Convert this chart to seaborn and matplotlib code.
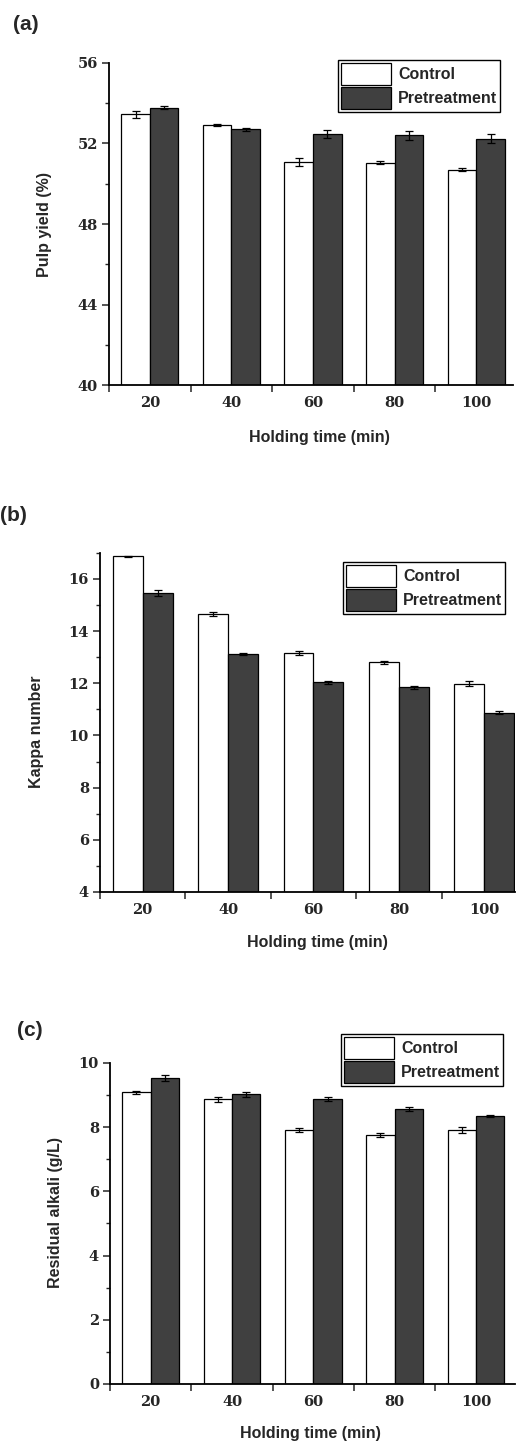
import numpy as np
import pandas as pd
import matplotlib
matplotlib.use("Agg")
import matplotlib.pyplot as plt
from matplotlib.ticker import MultipleLocator, FixedLocator
import seaborn as sns

# data
times = ["20", "40", "60", "80", "100"]
groups = ["Control", "Pretreatment"]

yield_control = [53.45, 52.92, 51.10, 51.05, 50.69]
yield_pre = [53.77, 52.71, 52.48, 52.41, 52.24]
yield_control_err = [0.16, 0.07, 0.20, 0.08, 0.08]
yield_pre_err = [0.08, 0.08, 0.20, 0.22, 0.22]

kappa_control = [16.87, 14.67, 13.15, 12.80, 11.99]
kappa_pre = [15.46, 13.13, 12.04, 11.85, 10.88]
kappa_control_err = [0.03, 0.08, 0.08, 0.06, 0.08]
kappa_pre_err = [0.10, 0.05, 0.05, 0.05, 0.05]

alkali_control = [9.08, 8.86, 7.91, 7.76, 7.91]
alkali_pre = [9.53, 9.02, 8.87, 8.57, 8.34]
alkali_control_err = [0.05, 0.07, 0.06, 0.06, 0.10]
alkali_pre_err = [0.10, 0.07, 0.06, 0.07, 0.04]

sns.set_style("ticks")
plt.rcParams["font.family"] = ["Liberation Sans", "DejaVu Sans"]

fig = plt.figure(figsize=(5.17, 14.41), dpi=100)

panels = [
    dict(tag="(a)", ylabel="Pulp yield (%)", c=yield_control, p=yield_pre,
         ce=yield_control_err, pe=yield_pre_err, ylim=(40, 56), major=4, minor=2,
         rect=[0.2108, 0.7328, 0.7814, 0.2235], xmax=4.45,
         ylab=(-0.140, 0.50), xlab=(0.522, -0.140), tagpos=(0.025, 0.9833),
         leg=(338, 60, 503, 118)),
    dict(tag="(b)", ylabel="Kappa number", c=kappa_control, p=kappa_pre,
         ce=kappa_control_err, pe=kappa_pre_err, ylim=(4, 17), major=2, minor=1,
         rect=[0.1934, 0.3810, 0.8027, 0.2353], xmax=4.36,
         ylab=(-0.135, 0.472), xlab=(0.523, -0.128), tagpos=(0.0, 0.6426),
         leg=(343, 562, 514, 622)),
    dict(tag="(c)", ylabel="Residual alkali (g/L)", c=alkali_control, p=alkali_pre,
         ce=alkali_control_err, pe=alkali_pre_err, ylim=(0, 10), major=2, minor=1,
         rect=[0.2128, 0.0396, 0.7834, 0.2228], xmax=4.48,
         ylab=(-0.117, 0.533), xlab=(0.496, -0.130), tagpos=(0.033, 0.2852),
         leg=(341, 1034, 506, 1091)),
]

W, H = 517, 1441
for pn in panels:
    ax = fig.add_axes(pn["rect"])
    df = pd.DataFrame({
        "time": times * 2,
        "group": [groups[0]] * 5 + [groups[1]] * 5,
        "value": list(pn["c"]) + list(pn["p"]),
    })
    sns.barplot(data=df, x="time", y="value", hue="group", order=times,
                hue_order=groups, palette=["white", "#404040"], width=0.7,
                edgecolor="black", linewidth=0.9, errorbar=None, ax=ax,
                legend=False)
    errs = list(pn["ce"]) + list(pn["pe"])
    for bar, e in zip(ax.patches[:10], errs):
        ax.errorbar(bar.get_x() + bar.get_width() / 2, bar.get_height(), yerr=e,
                    fmt="none", ecolor="black", elinewidth=0.9, capsize=3.2,
                    capthick=0.9, zorder=5)

    ax.set_xlim(-0.5, pn["xmax"])
    ax.set_ylim(*pn["ylim"])
    ax.yaxis.set_major_locator(MultipleLocator(pn["major"]))
    ax.yaxis.set_minor_locator(MultipleLocator(pn["minor"]))
    ax.xaxis.set_major_locator(FixedLocator(range(5)))
    ax.xaxis.set_minor_locator(FixedLocator(np.arange(-0.5, 4.5, 1.0)))
    ax.set_xticklabels(times)
    ax.tick_params(axis="x", which="major", length=0, pad=8)
    ax.tick_params(axis="x", which="minor", length=5, width=1.1, direction="out")
    ax.tick_params(axis="y", which="major", length=5, width=1.1, direction="out", pad=3)
    ax.tick_params(axis="y", which="minor", length=3, width=1.0, direction="out")
    for lab in ax.get_xticklabels() + ax.get_yticklabels():
        lab.set_fontfamily("DejaVu Serif")
        lab.set_fontweight("bold")
        lab.set_fontsize(10.5)
    sns.despine(ax=ax)
    for s in ["left", "bottom"]:
        ax.spines[s].set_linewidth(1.3)
        ax.spines[s].set_color("black")

    ax.set_ylabel(pn["ylabel"], fontsize=11.5, fontweight="bold")
    ax.set_xlabel("Holding time (min)", fontsize=11.5, fontweight="bold")
    ax.yaxis.set_label_coords(*pn["ylab"])
    ax.xaxis.set_label_coords(*pn["xlab"])

    fig.text(pn["tagpos"][0], pn["tagpos"][1], pn["tag"], fontsize=15,
             fontweight="bold", ha="left", va="center")

    # legend box placed like the original
    x0, y0, x1, y1 = pn["leg"]
    handles = [plt.Rectangle((0, 0), 1, 1, facecolor=c, edgecolor="black", linewidth=0.9)
               for c in ["white", "#404040"]]
    leg = fig.legend(handles, groups, loc="upper left",
                     bbox_to_anchor=(x0 / W, 1 - y0 / H), bbox_transform=fig.transFigure,
                     frameon=True, fancybox=False, edgecolor="black", framealpha=1,
                     prop=dict(weight="bold", size=11.5), handlelength=3.1,
                     handleheight=1.75, labelspacing=0.12, borderpad=0.2,
                     handletextpad=0.45, borderaxespad=0)
    leg.get_frame().set_linewidth(1.0)

fig.savefig("out.png", dpi=100)
